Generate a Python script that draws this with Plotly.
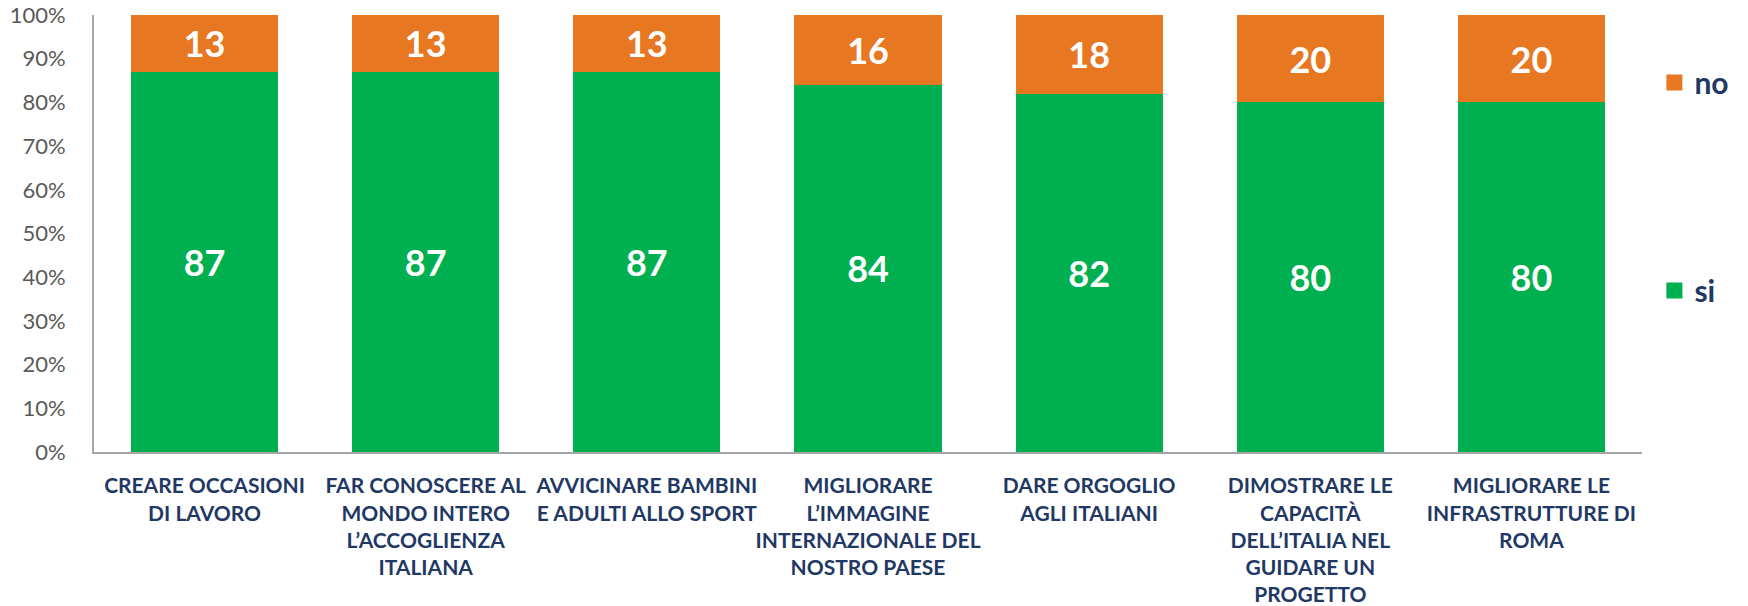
import plotly.graph_objects as go

categories = [
    "CREARE OCCASIONI<br>DI LAVORO",
    "FAR CONOSCERE AL<br>MONDO INTERO<br>L’ACCOGLIENZA<br>ITALIANA",
    "AVVICINARE BAMBINI<br>E ADULTI ALLO SPORT",
    "MIGLIORARE<br>L’IMMAGINE<br>INTERNAZIONALE DEL<br>NOSTRO PAESE",
    "DARE ORGOGLIO<br>AGLI ITALIANI",
    "DIMOSTRARE LE<br>CAPACITÀ<br>DELL’ITALIA NEL<br>GUIDARE UN<br>PROGETTO",
    "MIGLIORARE LE<br>INFRASTRUTTURE DI<br>ROMA",
]
si_values = [87, 87, 87, 84, 82, 80, 80]
no_values = [13, 13, 13, 16, 18, 20, 20]
y_tickvals = [0, 10, 20, 30, 40, 50, 60, 70, 80, 90, 100]
y_ticktext = ["0%", "10%", "20%", "30%", "40%", "50%", "60%", "70%", "80%", "90%", "100%"]

GREEN = "#00B050"
ORANGE = "#E87722"
NAVY = "#1F3864"
FONT = "Lato"

fig = go.Figure()
fig.add_trace(go.Bar(
    x=categories, y=si_values, name="si", marker=dict(color=GREEN, line=dict(width=0)),
    text=[str(v) for v in si_values], textposition="inside", insidetextanchor="middle",
    textfont=dict(family=FONT, size=36, color="white", weight="bold"),
    showlegend=False,
))
fig.add_trace(go.Bar(
    x=categories, y=no_values, name="no", marker=dict(color=ORANGE, line=dict(width=0)),
    text=[str(v) for v in no_values], textposition="inside", insidetextanchor="middle",
    textfont=dict(family=FONT, size=36, color="white", weight="bold"),
    showlegend=False,
))
# legend entries
fig.add_trace(go.Scatter(x=[None], y=[None], mode="markers", name="no", legendgroup="no",
                         marker=dict(symbol="square", size=16, color=ORANGE)))
fig.add_trace(go.Scatter(x=[None], y=[None], mode="markers", name="si", legendgroup="si",
                         marker=dict(symbol="square", size=16, color=GREEN)))

fig.update_layout(
    width=1748, height=606,
    barmode="stack", bargap=0.335,
    plot_bgcolor="white", paper_bgcolor="white",
    margin=dict(l=94, r=106, t=15, b=154, pad=0, autoexpand=False),
    font=dict(family=FONT),
    uniformtext=dict(minsize=36, mode="show"),
    legend=dict(
        traceorder="grouped", tracegroupgap=166,
        x=1.008, xanchor="left", y=0.905, yanchor="top",
        font=dict(family=FONT, size=30, color=NAVY, weight="bold"),
        bgcolor="rgba(0,0,0,0)",
    ),
)
fig.update_xaxes(
    showline=True, linecolor="#A6A6A6", linewidth=2, showgrid=False,
    ticks="", ticklabelstandoff=14, automargin=False, tickangle=0,
    tickfont=dict(family=FONT, size=21, color=NAVY, weight="bold"),
    range=[-0.5, 6.5], fixedrange=True,
)
fig.update_yaxes(
    range=[0, 100], tickvals=y_tickvals, ticktext=y_ticktext,
    showline=True, linecolor="#A6A6A6", linewidth=2, showgrid=False, zeroline=False,
    ticks="", ticklabelstandoff=22, automargin=False, fixedrange=True,
    tickfont=dict(family=FONT, size=22, color="#595959"),
)

fig.write_html("out.html", config={"displayModeBar": False},
               post_script="document.body.style.margin='0';")
